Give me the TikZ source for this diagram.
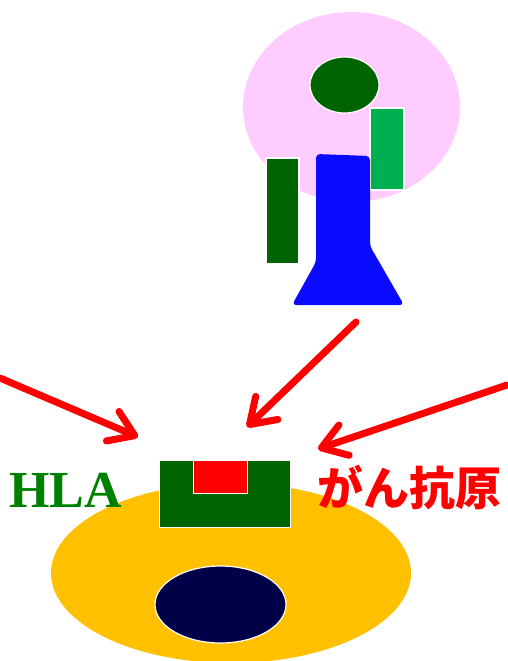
\documentclass[tikz,border=0pt]{standalone}
\usepackage{fontspec}
\setmainfont{Liberation Serif}
\newfontfamily\cjk{Noto Sans CJK JP}
\usetikzlibrary{arrows.meta}
\definecolor{pinkbg}{HTML}{FFCCFF}
\definecolor{darkgr}{HTML}{006400}
\definecolor{lightgr}{HTML}{00B050}
\definecolor{cellor}{HTML}{FFC000}
\definecolor{navy}{HTML}{000048}
\definecolor{hlagr}{HTML}{008000}
\definecolor{cellblue}{HTML}{0A0AFF}
\tikzset{
  part/.style={draw=white, line width=1.2pt},
  ray/.style={draw=red, line width=7pt, line cap=round,
    -{Straight Barb[length=24pt, width=32pt, line cap=round, line join=round]}},
}
\begin{document}
\begin{tikzpicture}[x=1pt, y=-1pt]
\useasboundingbox (0,0) rectangle (507,661);
% T cell
\fill[pinkbg] (351.5,107) ellipse [x radius=108.5, y radius=95];
\path[part, fill=darkgr] (344.5,85) ellipse [x radius=34.5, y radius=28];
\path[part, fill=lightgr] (370,108) rectangle (404,190);
\path[part, fill=darkgr] (266,158) rectangle (299,264);
\fill[cellblue, rounded corners=4pt] (316,154) -- (370,156) -- (370,246) -- (404,305)
  -- (292,305) -- (316,262) -- cycle;
% target cell
\fill[cellor] (231,573) ellipse [x radius=180, y radius=90];
\path[part, fill=navy] (220.5,604.5) ellipse [x radius=65.5, y radius=38.5];
\node[part, fill=darkgr, minimum width=131pt, minimum height=67pt, inner sep=0pt, anchor=north west] (mhc) at (159,460) {};
\node[part, fill=red, minimum width=54pt, minimum height=33pt, inner sep=0pt, anchor=north west] (pep) at (193,460) {};
% labels
\node[text=hlagr, font=\bfseries\fontsize{52}{52}\selectfont, anchor=base west, inner sep=0pt] (hla) at (9,507) {HLA};
\node[text=red, font=\cjk\bfseries\fontsize{46}{46}\selectfont, anchor=base west, inner sep=0pt] (ag) at (317,505) {がん抗原};
% arrows
\coordinate (a1s) at (0,378);   \coordinate (a1e) at (138,437);
\coordinate (a2s) at (356,322); \coordinate (a2e) at (247,427);
\coordinate (a3s) at (507,385); \coordinate (a3e) at (318,449);
\draw[ray] (a1s) -- (a1e);
\draw[ray] (a2s) -- (a2e);
\draw[ray] (a3s) -- (a3e);
\end{tikzpicture}
\end{document}
